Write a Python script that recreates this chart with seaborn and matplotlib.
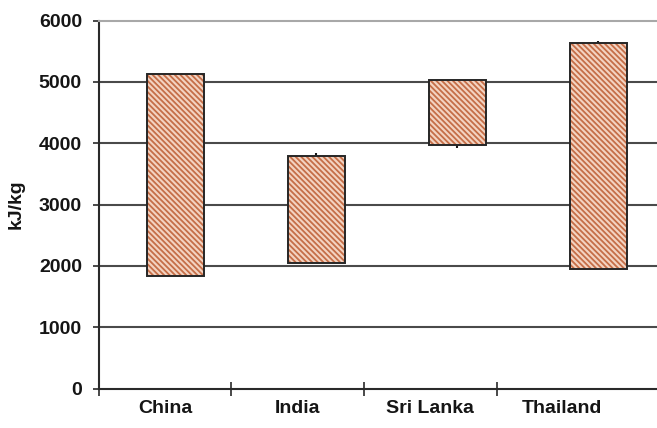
import numpy as np
import pandas as pd
import matplotlib
matplotlib.use("Agg")
import matplotlib.pyplot as plt
from matplotlib.ticker import FixedLocator, NullFormatter
import seaborn as sns

# Energy content ranges per country (kJ/kg)
countries = ["China", "India", "Sri Lanka", "Thailand"]
range_low = [1830, 2050, 3970, 1950]
range_high = [5130, 3800, 5030, 5630]
# extreme values (high-low whiskers)
whisker_low = [1830, 2050, 3930, 1950]
whisker_high = [5130, 3840, 5030, 5670]
y_ticks = [0, 1000, 2000, 3000, 4000, 5000, 6000]

df = pd.DataFrame({
    "country": countries,
    "low": range_low,
    "high": range_high,
})
df["span"] = df["high"] - df["low"]

sns.set_style("white")
plt.rcParams["font.family"] = ["Liberation Sans", "DejaVu Sans"]
plt.rcParams["hatch.linewidth"] = 1.3

fig = plt.figure(figsize=(6.57, 4.28), dpi=100)
ax = fig.add_axes([0.150, 0.092, 0.850, 0.860])

text_color = "#151515"
grid_color = "#4a4a4a"
font_size = 14

# gridlines behind the bars
for v in y_ticks[1:-1]:
    ax.axhline(v, color=grid_color, lw=1.5, zorder=0)

# whiskers for the extreme values
ax.vlines(np.arange(len(countries)), whisker_low, whisker_high,
          color="#1a1a1a", lw=1.5, zorder=1)

# hatched floating bars
sns.barplot(data=df, x="country", y="span", order=countries,
            bottom=df["low"].to_numpy(), width=0.40,
            color="#f3d3c1", saturation=1, edgecolor="#c56e47", linewidth=0,
            hatch="\\\\\\\\\\\\", ax=ax, zorder=2)
# dark outline of each bar
ax.bar(np.arange(len(countries)), df["span"], bottom=df["low"], width=0.40,
       facecolor="none", edgecolor="#262626", linewidth=1.4, zorder=3)

ax.set_xlim(-0.545, 3.415)
ax.set_ylim(0, 6000)

# category labels between boundary ticks
label_pos = [-0.074, 0.865, 1.805, 2.74]
boundary_pos = [-0.545, 0.394, 1.335, 2.28]
ax.xaxis.set_major_locator(FixedLocator(label_pos))
ax.set_xticklabels(countries)
ax.xaxis.set_minor_locator(FixedLocator(boundary_pos))
ax.xaxis.set_minor_formatter(NullFormatter())
ax.tick_params(axis="x", which="major", length=0, pad=8,
               labelsize=font_size, labelcolor=text_color)
ax.tick_params(axis="x", which="minor", direction="inout", length=10,
               width=1.2, color="#2a2a2a", bottom=True)
for lbl in ax.get_xticklabels():
    lbl.set_fontweight("bold")

ax.set_yticks(y_ticks)
ax.set_yticklabels([str(v) for v in y_ticks])
ax.tick_params(axis="y", direction="out", length=4, width=1.2,
               color="#2a2a2a", pad=8, labelsize=font_size, labelcolor=text_color, left=True)
for lbl in ax.get_yticklabels():
    lbl.set_fontweight("bold")

ax.set_xlabel("")
ax.set_ylabel("kJ/kg", fontsize=font_size, fontweight="bold", color=text_color, labelpad=10)

for side in ["left", "bottom"]:
    ax.spines[side].set_color("#2a2a2a")
    ax.spines[side].set_linewidth(1.5)
ax.spines["top"].set_color("#a8a8a8")
ax.spines["top"].set_linewidth(1.5)
ax.spines["right"].set_visible(False)

fig.savefig("out.png", dpi=100)
